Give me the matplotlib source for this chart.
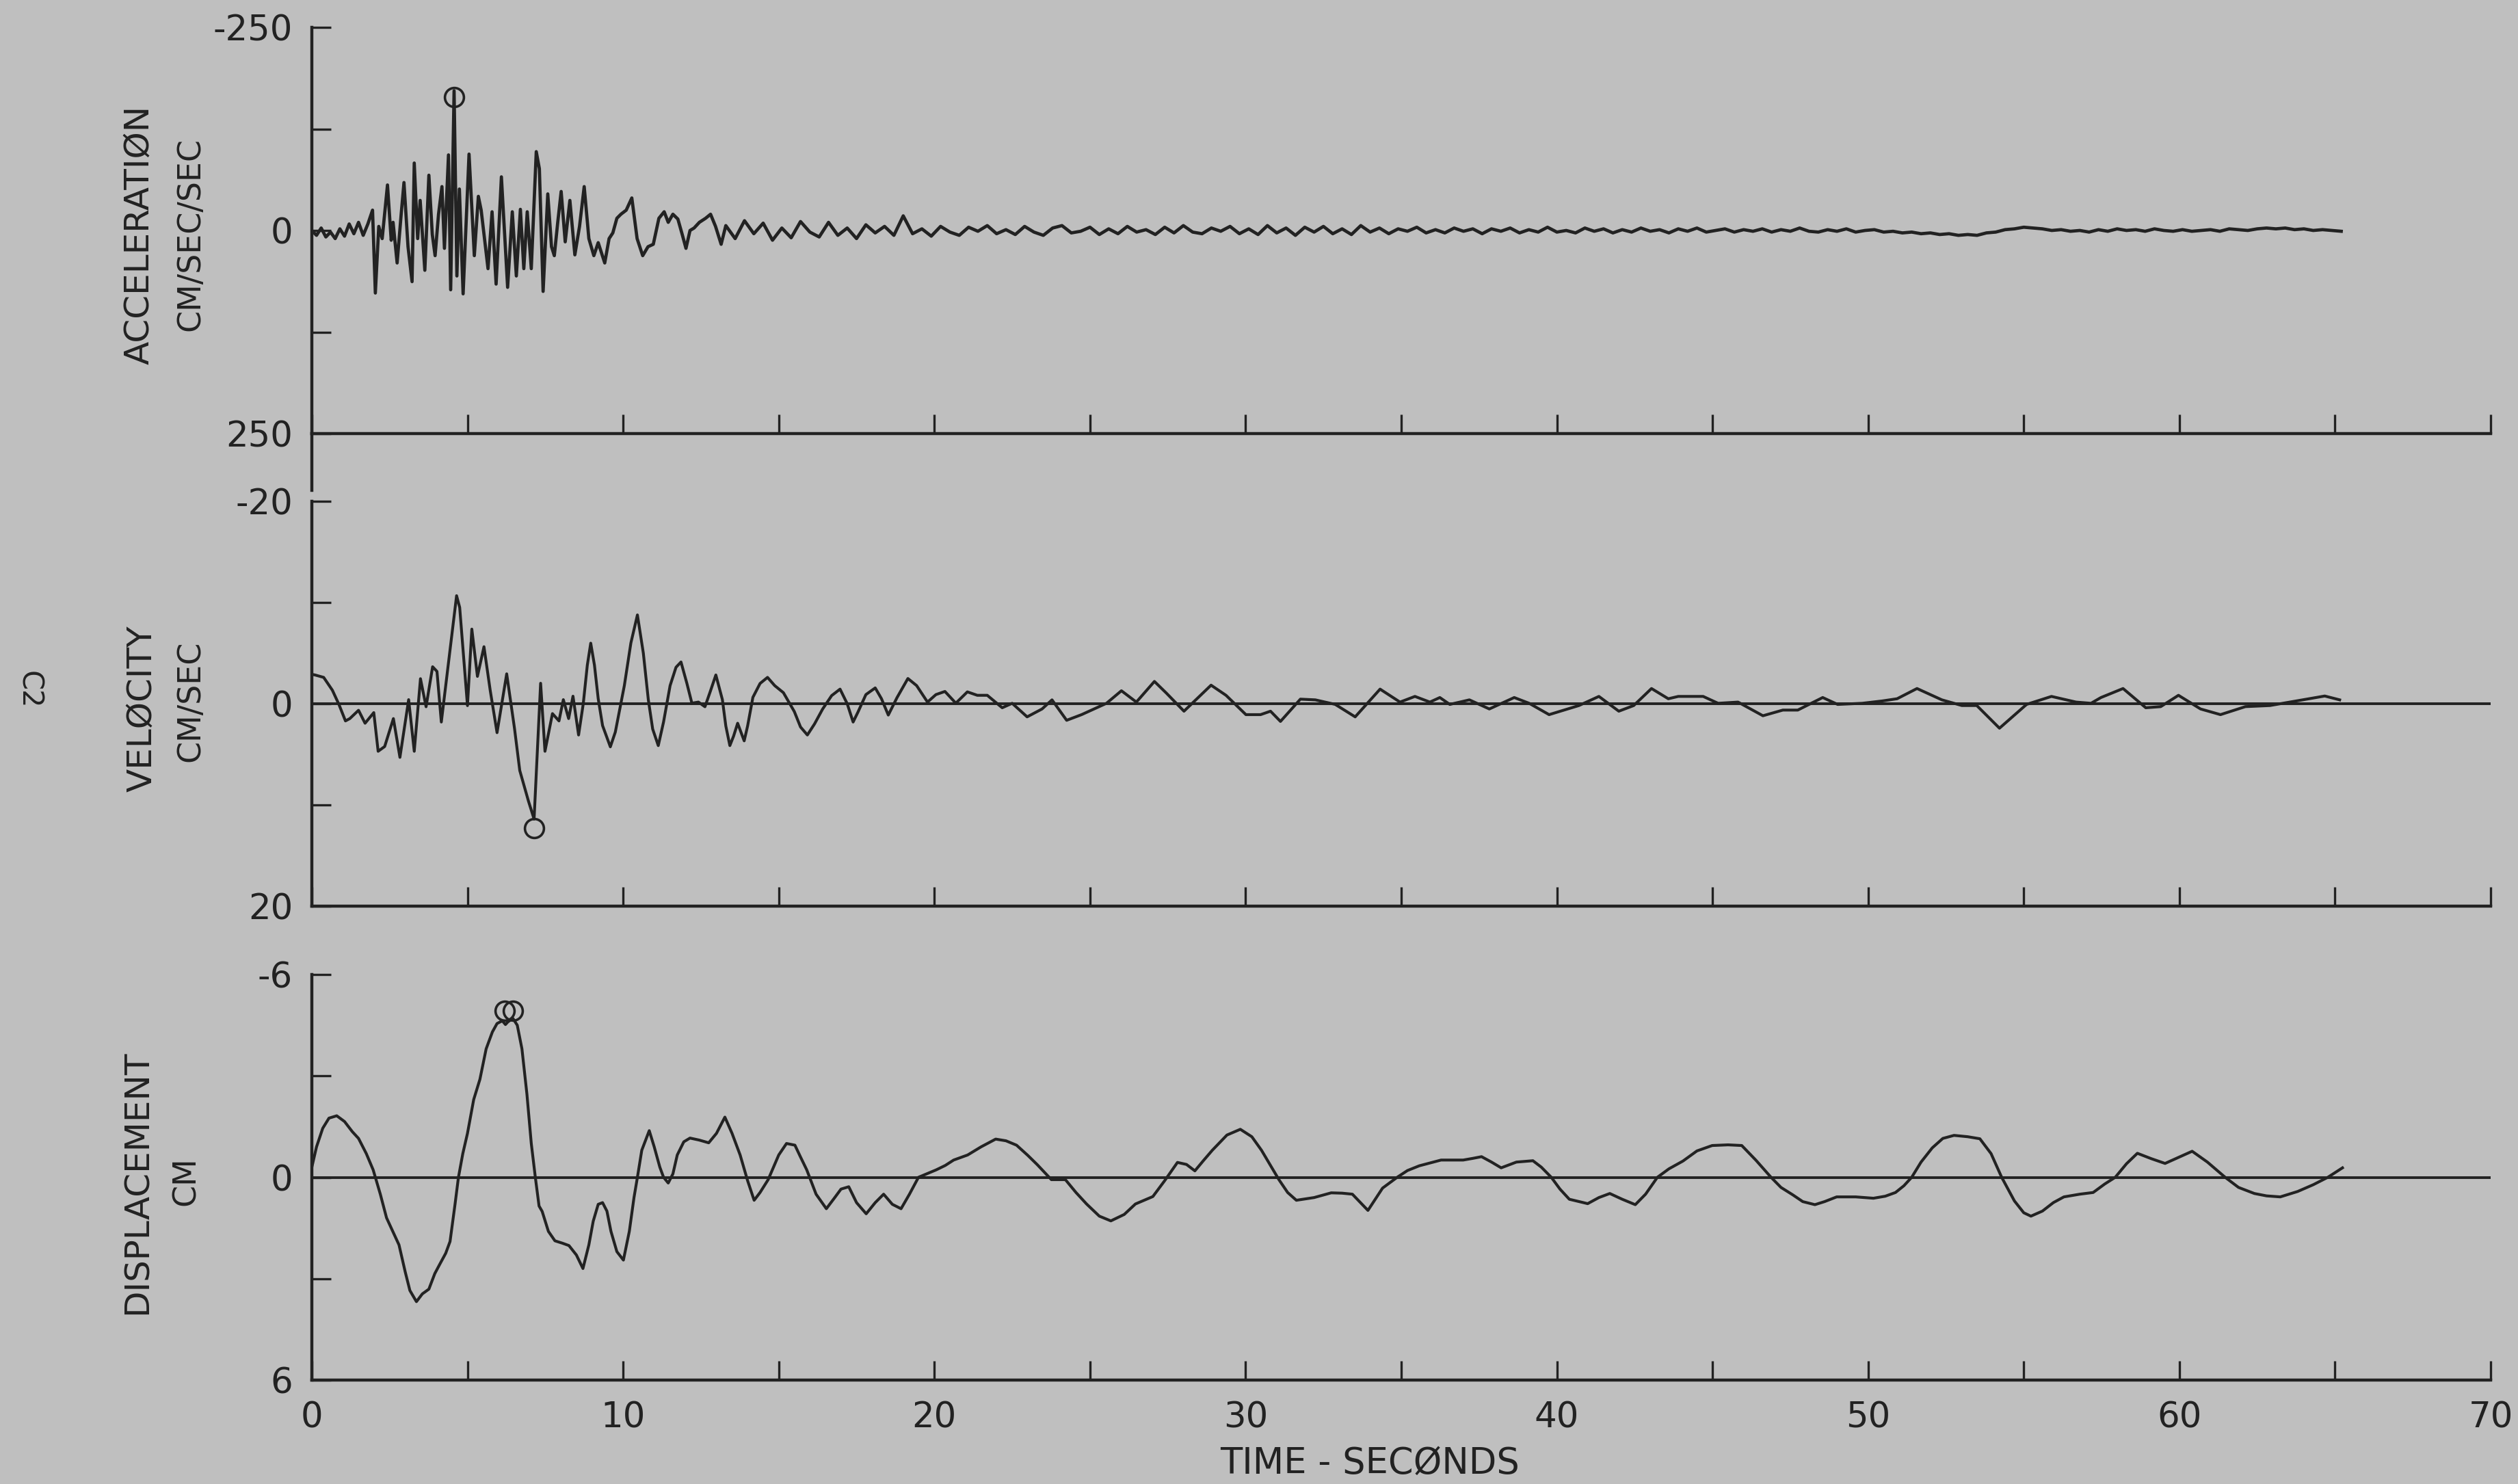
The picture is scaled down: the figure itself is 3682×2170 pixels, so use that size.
import matplotlib
matplotlib.use("Agg")
import matplotlib.pyplot as plt

# Corrected strong-motion record, component C2
# time in seconds, values in plot units (axes are inverted: negative is up)

acc_points = [
    (0.00, 0), (0.15, 6), (0.30, -3), (0.45, 8), (0.60, 2), (0.75, 10), (0.90, -2),
    (1.05, 7), (1.20, -8), (1.35, 4), (1.50, -10), (1.65, 6), (1.80, -8), (1.95, -25),
    (2.04, 77), (2.15, -5), (2.26, 10), (2.43, -56), (2.55, 12), (2.61, -10), (2.74, 40),
    (2.87, -20), (2.96, -59), (3.09, 20), (3.22, 63), (3.29, -83), (3.40, 10), (3.48, -37),
    (3.63, 49), (3.76, -68), (3.87, 5), (3.96, 31), (4.07, -20), (4.18, -54), (4.26, 22),
    (4.39, -93), (4.46, 73), (4.57, -172), (4.66, 56), (4.74, -51), (4.86, 78), (5.05, -94),
    (5.22, 31), (5.35, -42), (5.44, -25), (5.66, 47), (5.79, -23), (5.92, 66), (6.09, -66),
    (6.29, 70), (6.44, -23), (6.57, 56), (6.70, -26), (6.81, 47), (6.92, -23), (7.05, 47),
    (7.21, -97), (7.31, -76), (7.43, 75), (7.58, -45), (7.70, 20), (7.79, 31), (7.90, -10),
    (8.01, -48), (8.14, 14), (8.29, -37), (8.45, 30), (8.60, -5), (8.75, -54), (8.90, 10),
    (9.06, 31), (9.20, 15), (9.41, 40), (9.55, 10), (9.67, 3), (9.80, -15), (9.93, -20),
    (10.10, -25), (10.28, -40), (10.45, 10), (10.63, 31), (10.80, 20), (10.97, 17),
    (11.15, -15), (11.32, -23), (11.45, -10), (11.60, -20), (11.76, -14), (11.90, 5),
    (12.02, 22), (12.15, 0), (12.28, -3), (12.45, -10), (12.65, -15), (12.81, -20),
    (12.97, -5), (13.15, 17),
    (13.3, -6), (13.6, 10), (13.9, -12), (14.2, 4), (14.5, -9), (14.8, 12), (15.1, -3),
    (15.4, 9), (15.7, -11), (16.0, 2), (16.3, 8), (16.6, -10), (16.9, 6), (17.2, -3),
    (17.5, 10), (17.8, -7), (18.1, 3), (18.4, -5), (18.7, 6), (19.0, -18), (19.3, 4),
    (19.6, -2), (19.9, 7), (20.2, -5), (20.5, 2), (20.8, 6), (21.1, -4), (21.4, 1),
    (21.7, -6), (22.0, 4), (22.3, -1), (22.6, 5), (22.9, -5), (23.2, 2), (23.5, 6),
    (23.8, -3), (24.1, -6), (24.4, 3), (24.7, 1), (25.0, -4), (25.3, 5), (25.6, -2),
    (25.9, 4), (26.2, -5), (26.5, 2), (26.8, -1), (27.1, 5), (27.4, -4), (27.7, 3),
    (28.0, -6), (28.3, 2), (28.6, 4), (28.9, -3), (29.2, 1), (29.5, -5), (29.8, 4),
    (30.1, -2), (30.4, 5), (30.7, -6), (31.0, 3), (31.3, -3), (31.6, 6), (31.9, -4),
    (32.2, 2), (32.5, -5), (32.8, 4), (33.1, -2), (33.4, 5), (33.7, -6), (34.0, 2),
    (34.3, -3), (34.6, 4), (34.9, -2), (35.2, 1), (35.5, -4), (35.8, 3), (36.1, -1),
    (36.4, 3), (36.7, -3), (37.0, 1), (37.3, -2), (37.6, 4), (37.9, -2), (38.2, 1),
    (38.5, -3), (38.8, 3), (39.1, -1), (39.4, 2), (39.7, -4), (40.0, 2), (40.3, 0),
    (40.6, 3), (40.9, -3), (41.2, 1), (41.5, -2), (41.8, 3), (42.1, -1), (42.4, 2),
    (42.7, -3), (43.0, 1), (43.3, -1), (43.6, 3), (43.9, -2), (44.2, 1), (44.5, -3),
    (44.8, 2), (45.1, 0), (45.4, -2), (45.7, 2), (46.0, -1), (46.3, 1), (46.6, -2),
    (46.9, 2), (47.2, -1), (47.5, 1), (47.8, -3), (48.1, 1), (48.4, 2), (48.7, -1),
    (49.0, 1), (49.3, -2), (49.6, 2), (49.9, 0), (50.2, -1), (50.5, 2), (50.8, 1),
    (51.1, 3), (51.4, 2), (51.7, 4), (52.0, 3), (52.3, 5), (52.6, 4), (52.9, 6),
    (53.2, 5), (53.5, 6), (53.8, 3), (54.1, 2), (54.4, -1), (54.7, -2), (55.0, -4),
    (55.3, -3), (55.6, -2), (55.9, 0), (56.2, -1), (56.5, 1), (56.8, 0), (57.1, 2),
    (57.4, -1), (57.7, 1), (58.0, -2), (58.3, 0), (58.6, -1), (58.9, 1), (59.2, -2),
    (59.5, 0), (59.8, 1), (60.1, -1), (60.4, 1), (60.7, 0), (61.0, -1), (61.3, 1),
    (61.6, -2), (61.9, -1), (62.2, 0), (62.5, -2), (62.8, -3), (63.1, -2), (63.4, -3),
    (63.7, -1), (64.0, -2), (64.3, 0), (64.6, -1), (64.9, 0), (65.2, 1),
]

vel_points = [
    (0.00, -2.9), (0.10, -2.84), (0.38, -2.6), (0.66, -1.33), (0.87, 0.07), (1.08, 1.70),
    (1.22, 1.47), (1.50, 0.65), (1.71, 1.93), (1.99, 0.88), (2.13, 4.70), (2.34, 4.23),
    (2.62, 1.47), (2.83, 5.30), (3.11, -0.40), (3.29, 4.70), (3.49, -2.47), (3.67, 0.30),
    (3.88, -3.65), (4.02, -3.19), (4.16, 1.81), (4.44, -5.30), (4.65, -10.67), (4.75, -9.51),
    (5.00, 0.19), (5.14, -7.37), (5.32, -2.70), (5.53, -5.63), (5.73, -1.33), (5.95, 2.86),
    (6.26, -2.95), (6.51, 2.42), (6.68, 6.60), (6.96, 9.63), (7.14, 11.4), (7.35, -2.02),
    (7.49, 4.70), (7.73, 0.98), (7.94, 1.70), (8.08, -0.40), (8.25, 1.47), (8.39, -0.74),
    (8.57, 3.09), (8.72, 0.0), (8.85, -3.8), (8.96, -5.98), (9.08, -3.8), (9.20, -0.5),
    (9.34, 2.16), (9.59, 4.26), (9.75, 2.8), (10.04, -1.79), (10.25, -6.0), (10.46, -8.77),
    (10.65, -5.0), (10.81, -0.40), (10.95, 2.5), (11.13, 4.14), (11.30, 1.8), (11.51, -1.79),
    (11.70, -3.6), (11.86, -4.12), (12.05, -2.0), (12.21, -0.05), (12.42, -0.16),
    (12.63, 0.30), (12.80, -1.2), (12.98, -2.84), (13.19, -0.40), (13.30, 2.2),
    (13.43, 4.14), (13.55, 3.2), (13.68, 1.93), (13.89, 3.67), (14.00, 2.2), (14.17, -0.63),
    (14.40, -2.0), (14.64, -2.60), (14.87, -1.79), (15.15, -1.09), (15.50, 0.77),
    (15.70, 2.3), (15.92, 3.09), (16.15, 2.0), (16.41, 0.53), (16.70, -0.8), (16.97, -1.44),
    (17.20, 0.0), (17.39, 1.81), (17.55, 0.8), (17.80, -0.9), (18.10, -1.56), (18.30, -0.5),
    (18.52, 1.12), (18.80, -0.6), (19.15, -2.49), (19.43, -1.79), (19.78, -0.16),
    (20.05, -0.9), (20.34, -1.21), (20.69, -0.05),
    (21.06, -1.17), (21.38, -0.83), (21.70, -0.83), (22.18, 0.40), (22.50, -0.04),
    (22.98, 1.30), (23.46, 0.52), (23.78, -0.38), (24.25, 1.64), (24.73, 1.08),
    (25.53, -0.04), (26.01, -1.28), (26.49, -0.16), (27.07, -2.20), (27.45, -1.06),
    (28.02, 0.74), (28.89, -1.83), (29.37, -0.83), (30.01, 1.08), (30.48, 1.08),
    (30.80, 0.74), (31.12, 1.75), (31.76, -0.45), (32.24, -0.38), (32.88, 0.07),
    (33.52, 1.30), (34.32, -1.44), (34.96, -0.16), (35.44, -0.72), (35.92, -0.16),
    (36.24, -0.61), (36.56, 0.07), (37.19, -0.38), (37.83, 0.52), (38.63, -0.61),
    (39.11, -0.04), (39.75, 1.08), (40.71, 0.18), (41.35, -0.72), (41.99, 0.74),
    (42.47, 0.18), (43.04, -1.50), (43.58, -0.49), (43.90, -0.72), (44.38, -0.72),
    (44.70, -0.72), (45.18, -0.04), (45.82, -0.16), (46.62, 1.19), (47.26, 0.63),
    (47.74, 0.63), (48.54, -0.61), (49.02, 0.07), (49.81, -0.04), (50.45, -0.27),
    (50.93, -0.49), (51.57, -1.50), (52.37, -0.38), (53.01, 0.18), (53.49, 0.18),
    (54.22, 2.42), (55.09, 0.07), (55.89, -0.72), (56.68, -0.16), (57.16, -0.04),
    (57.48, -0.61), (58.19, -1.50), (58.92, 0.40), (59.40, 0.29), (59.97, -0.83),
    (60.68, 0.52), (61.32, 1.08), (62.12, 0.29), (62.91, 0.18), (63.55, -0.16),
    (64.67, -0.76), (65.15, -0.38),
]

disp_points = [
    (0.00, -0.3), (0.15, -0.9), (0.35, -1.45), (0.55, -1.75), (0.80, -1.82), (1.05, -1.65),
    (1.30, -1.35), (1.50, -1.15), (1.75, -0.7), (1.97, -0.22), (2.20, 0.5), (2.40, 1.2),
    (2.60, 1.6), (2.80, 2.0), (3.00, 2.8), (3.15, 3.35), (3.36, 3.68), (3.55, 3.45),
    (3.76, 3.31), (3.95, 2.85), (4.10, 2.59), (4.30, 2.25), (4.44, 1.9), (4.60, 0.8),
    (4.71, 0.0), (4.85, -0.7), (5.00, -1.3), (5.20, -2.3), (5.40, -2.9), (5.60, -3.8),
    (5.80, -4.3), (5.95, -4.55), (6.12, -4.63), (6.22, -4.52), (6.30, -4.6), (6.46, -4.70),
    (6.60, -4.5), (6.75, -3.8), (6.91, -2.46), (7.05, -1.0), (7.18, 0.0), (7.30, 0.85),
    (7.40, 1.01), (7.60, 1.6), (7.81, 1.88), (8.05, 1.95), (8.26, 2.02), (8.50, 2.3),
    (8.71, 2.70), (8.90, 2.0), (9.04, 1.3), (9.20, 0.8), (9.34, 0.75), (9.48, 1.0),
    (9.61, 1.6), (9.80, 2.2), (10.01, 2.45), (10.20, 1.6), (10.35, 0.6), (10.46, 0.0),
    (10.60, -0.8), (10.84, -1.38), (11.00, -0.9), (11.18, -0.30), (11.30, 0.0),
    (11.45, 0.17), (11.60, -0.1), (11.74, -0.66), (11.95, -1.05), (12.15, -1.16),
    (12.45, -1.1), (12.75, -1.02), (13.00, -1.3), (13.27, -1.78), (13.50, -1.3),
    (13.76, -0.66), (14.00, 0.1), (14.21, 0.68), (14.40, 0.45), (14.66, 0.07),
    (15.00, -0.66), (15.25, -1.0), (15.52, -0.95), (15.70, -0.6), (15.90, -0.22),
    (16.20, 0.5), (16.53, 0.93), (16.80, 0.6), (17.00, 0.35), (17.25, 0.28), (17.50, 0.75),
    (17.81, 1.08), (18.10, 0.75), (18.37, 0.50), (18.65, 0.8), (18.93, 0.93), (19.20, 0.5),
    (19.49, 0.0), (19.80, -0.12), (20.06, -0.22), (20.35, -0.35), (20.62, -0.51),
    (21.07, -0.66), (21.50, -0.9), (21.97, -1.13), (22.30, -1.08), (22.64, -0.95),
    (23.00, -0.65), (23.31, -0.37), (23.76, 0.07), (24.21, 0.07), (24.55, 0.45),
    (24.89, 0.79), (25.30, 1.15), (25.67, 1.29), (26.10, 1.1), (26.46, 0.79), (27.02, 0.57),
    (27.40, 0.1), (27.81, -0.44), (28.10, -0.38), (28.37, -0.19), (28.65, -0.5),
    (28.93, -0.80), (29.40, -1.25), (29.83, -1.42), (30.20, -1.2), (30.51, -0.80),
    (30.80, -0.35), (31.07, 0.07), (31.35, 0.45), (31.63, 0.68), (32.20, 0.6), (32.75, 0.46),
    (33.10, 0.47), (33.43, 0.50), (33.93, 0.98), (34.40, 0.32), (34.87, 0.0), (35.20, -0.2),
    (35.58, -0.34), (36.28, -0.51), (36.99, -0.51), (37.30, -0.56), (37.58, -0.61),
    (37.90, -0.45), (38.21, -0.28), (38.70, -0.45), (39.23, -0.49), (39.50, -0.3),
    (39.82, 0.0), (40.10, 0.35), (40.40, 0.65), (40.99, 0.78), (41.35, 0.6), (41.70, 0.48),
    (42.10, 0.65), (42.52, 0.81), (42.85, 0.5), (43.23, 0.0), (43.60, -0.25), (44.05, -0.48),
    (44.50, -0.78), (44.99, -0.94), (45.50, -0.96), (45.94, -0.94), (46.40, -0.5),
    (46.88, 0.0), (47.20, 0.3), (47.58, 0.52), (47.90, 0.72), (48.29, 0.81), (48.60, 0.72),
    (48.99, 0.58), (49.60, 0.58), (50.17, 0.62), (50.55, 0.56), (50.88, 0.45), (51.15, 0.25),
    (51.40, 0.0), (51.70, -0.45), (52.06, -0.87), (52.40, -1.15), (52.76, -1.24),
    (53.20, -1.2), (53.59, -1.14), (53.95, -0.7), (54.29, 0.0), (54.70, 0.7), (55.00, 1.05),
    (55.23, 1.15), (55.60, 1.0), (55.95, 0.75), (56.29, 0.58), (56.80, 0.5), (57.23, 0.45),
    (57.60, 0.2), (57.94, 0.0), (58.30, -0.4), (58.65, -0.71), (59.10, -0.55),
    (59.54, -0.41), (60.00, -0.6), (60.41, -0.77), (60.90, -0.45), (61.47, 0.0),
    (61.90, 0.3), (62.41, 0.48), (62.80, 0.55), (63.24, 0.58), (63.80, 0.42), (64.30, 0.22),
    (64.77, 0.0), (65.24, -0.28),
]

# peak value markers (circles)
acc_peak = [(4.57, -164)]
vel_peak = [(7.14, 12.3)]
disp_peak = [(6.19, -4.92), (6.45, -4.92)]

x_ticks = [0, 5, 10, 15, 20, 25, 30, 35, 40, 45, 50, 55, 60, 65, 70]
x_ticklabels = ["0", "", "10", "", "20", "", "30", "", "40", "", "50", "", "60", "", "70"]

BG = "#bfbfbf"
INK = "#222222"

fig = plt.figure(figsize=(36.82, 21.70), dpi=100, facecolor=BG)
plt.rcParams["font.family"] = ["DejaVu Sans"]

left, width = 456 / 3682, 3186 / 3682
ax_a = fig.add_axes([left, 1 - 634 / 2170, width, 594 / 2170])
ax_v = fig.add_axes([left, 1 - 1325 / 2170, width, 592 / 2170])
ax_d = fig.add_axes([left, 1 - 2018 / 2170, width, 593 / 2170])


def style(ax, lim, show_labels):
    ax.set_facecolor(BG)
    ax.set_xlim(0, 70)
    ax.set_ylim(lim, -lim)
    for s in ["top", "right"]:
        ax.spines[s].set_visible(False)
    for s in ["left", "bottom"]:
        ax.spines[s].set_linewidth(3.2)
        ax.spines[s].set_color(INK)
    ax.set_yticks([-lim, -lim / 2, 0, lim / 2, lim])
    ax.set_yticklabels([f"{-lim:g}", "", "0", "", f"{lim:g}"])
    ax.set_xticks(x_ticks)
    ax.set_xticklabels(x_ticklabels if show_labels else [""] * len(x_ticks))
    ax.tick_params(direction="in", length=20, width=2.4, color=INK,
                   labelcolor=INK, labelsize=37)
    ax.tick_params(axis="y", pad=20)
    ax.tick_params(axis="x", pad=22)


def trace(ax, points, peaks, zero_line, lw):
    t = [p[0] for p in points]
    v = [p[1] for p in points]
    if zero_line:
        ax.axhline(0, color=INK, lw=2.8, zorder=2)
    ax.plot(t, v, color=INK, lw=lw, solid_joinstyle="round", zorder=3)
    ax.plot([p[0] for p in peaks], [p[1] for p in peaks], "o", ms=20,
            mfc="none", mec=INK, mew=2.6, zorder=4)


style(ax_a, 250, False)
style(ax_v, 20, False)
style(ax_d, 6, True)

trace(ax_a, acc_points, acc_peak, False, 3.4)
trace(ax_v, vel_points, vel_peak, True, 3.0)
trace(ax_d, disp_points, disp_peak, True, 3.0)

# left axis of the top panel runs on below its frame
ax_a.plot([0, 0], [250, 320], color=INK, lw=3.2, clip_on=False)

# axis titles
fig.text(203 / 3682, 1 - 343 / 2170, "ACCELERATIØN", rotation=90, ha="center",
         va="center", fontsize=36, color=INK)
fig.text(279 / 3682, 1 - 343 / 2170, "CM/SEC/SEC", rotation=90, ha="center",
         va="center", fontsize=33, color=INK)
fig.text(207 / 3682, 1 - 1036 / 2170, "VELØCITY", rotation=90, ha="center",
         va="center", fontsize=36, color=INK)
fig.text(279 / 3682, 1 - 1025 / 2170, "CM/SEC", rotation=90, ha="center",
         va="center", fontsize=33, color=INK)
fig.text(201 / 3682, 1 - 1729 / 2170, "DISPLACEMENT", rotation=90, ha="center",
         va="center", fontsize=36, color=INK)
fig.text(272 / 3682, 1 - 1727 / 2170, "CM", rotation=90, ha="center",
         va="center", fontsize=33, color=INK)
fig.text(2003 / 3682, 1 - 2140 / 2170, "TIME - SECØNDS", ha="center",
         va="center", fontsize=38, color=INK)
fig.text(42 / 3682, 1 - 1009 / 2170, "C2", rotation=270, ha="center",
         va="center", fontsize=30, color=INK)

fig.savefig("out.png", dpi=100, facecolor=BG)
